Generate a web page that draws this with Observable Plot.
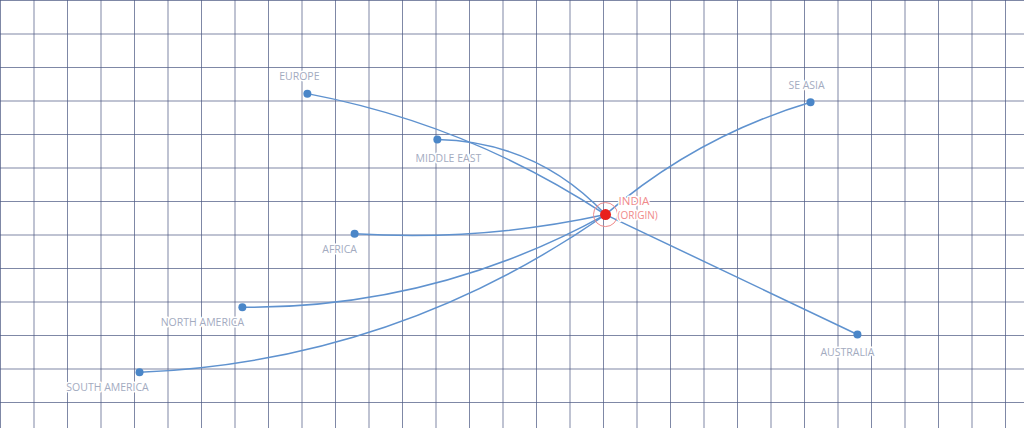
<!DOCTYPE html>
<html>
<head>
<meta charset="utf-8">
<script src="https://cdn.jsdelivr.net/npm/d3@7"></script>
<script src="https://cdn.jsdelivr.net/npm/@observablehq/plot@0.6"></script>
<style>
  body { margin: 0; background: #ffffff; }
  #chart svg { display: block; }
</style>
</head>
<body>
<div id="chart"></div>
<script>
// colours
const gridColor = '#4e5a84';
const routeBlue = '#5f92cf';
const dotBlue = '#4a86c8';
const labelGrey = '#a3abbf';
const originRed = '#e8201c';
const originPink = '#f08a8a';

// data, in grid units (one unit = one grid square), y grows downward
const regions = ["EUROPE", "MIDDLE EAST", "AFRICA", "NORTH AMERICA", "SOUTH AMERICA", "SE ASIA", "AUSTRALIA"];
const regionX = [9.16, 13.04, 10.57, 7.22, 4.15, 24.18, 25.58];
const regionY = [2.78, 4.15, 6.96, 9.16, 11.10, 3.04, 9.97];
// how far each route bows away from its straight chord (share of chord length)
const routeBend = [-0.10, -0.21, 0.07, 0.13, 0.146, 0.107, 0.0];

const originName = "INDIA";
const originSub = "(ORIGIN)";
const originX = 18.06;
const originY = 6.39;

const gridCols = 1024 / 33.5;
const gridRows = 428 / 33.5;

// label placement around each dot (px)
const labelOffset = {
  "EUROPE": [-8, -17],
  "MIDDLE EAST": [11, 19],
  "AFRICA": [-15, 16],
  "NORTH AMERICA": [-40, 15],
  "SOUTH AMERICA": [-32, 15],
  "SE ASIA": [-4, -17],
  "AUSTRALIA": [-10, 18]
};

const places = regions.map((name, i) => ({name, x: regionX[i], y: regionY[i], bend: routeBend[i]}));

// each route: destination -> control point -> origin
const routePoints = places.flatMap(p => {
  const vx = originX - p.x, vy = originY - p.y;
  const mx = (originX + p.x) / 2, my = (originY + p.y) / 2;
  const cx = mx - p.bend * vy, cy = my + p.bend * vx;
  return [
    {route: p.name, x: p.x, y: p.y},
    {route: p.name, x: cx, y: cy},
    {route: p.name, x: originX, y: originY}
  ];
});

// curve drawing one quadratic bezier through [start, control, end]
function curveQuad(context) {
  let pts = [];
  return {
    areaStart() {}, areaEnd() {},
    lineStart() { pts = []; },
    point(x, y) { pts.push([x, y]); },
    lineEnd() {
      const [a, b, c] = pts;
      context.moveTo(a[0], a[1]);
      context.quadraticCurveTo(b[0], b[1], c[0], c[1]);
    }
  };
}

const labelFont = {fontFamily: "'Open Sans', sans-serif", fontSize: 10.5};

const chart = Plot.plot({
  width: 1024,
  height: 428,
  marginTop: 0, marginRight: 0, marginBottom: 0, marginLeft: 0,
  x: {domain: [0, gridCols], axis: null},
  y: {domain: [0, gridRows], reverse: true, axis: null},
  style: {background: "#ffffff", overflow: "visible"},
  marks: [
    Plot.ruleX(d3.range(0, Math.ceil(gridCols)), {stroke: gridColor, strokeWidth: 1, strokeOpacity: 0.72}),
    Plot.ruleY(d3.range(0, Math.ceil(gridRows)), {stroke: gridColor, strokeWidth: 1, strokeOpacity: 0.72}),
    Plot.line(routePoints, {x: "x", y: "y", z: "route", curve: curveQuad, stroke: routeBlue, strokeWidth: 1.5}),
    Plot.dot(places, {x: "x", y: "y", r: 4, fill: dotBlue}),
    ...places.map(p => Plot.text([p], {
      x: "x", y: "y", text: "name",
      dx: labelOffset[p.name][0], dy: labelOffset[p.name][1],
      fill: labelGrey, stroke: "white", strokeWidth: 3, ...labelFont
    })),
    Plot.dot([{x: originX, y: originY}], {x: "x", y: "y", r: 12, fill: "none", stroke: originPink, strokeWidth: 1}),
    Plot.dot([{x: originX, y: originY}], {x: "x", y: "y", r: 5.5, fill: originRed}),
    Plot.text([{x: originX, y: originY}], {x: "x", y: "y", text: () => originName, textAnchor: "start",
      dx: 13, dy: -13, fill: originPink, stroke: "white", strokeWidth: 3, fontFamily: "'Open Sans', sans-serif", fontSize: 11.5}),
    Plot.text([{x: originX, y: originY}], {x: "x", y: "y", text: () => originSub, textAnchor: "start",
      dx: 12, dy: 1, fill: originPink, stroke: "white", strokeWidth: 3, fontFamily: "'Open Sans', sans-serif", fontSize: 10})
  ]
});

document.getElementById("chart").append(chart);
</script>
</body>
</html>
